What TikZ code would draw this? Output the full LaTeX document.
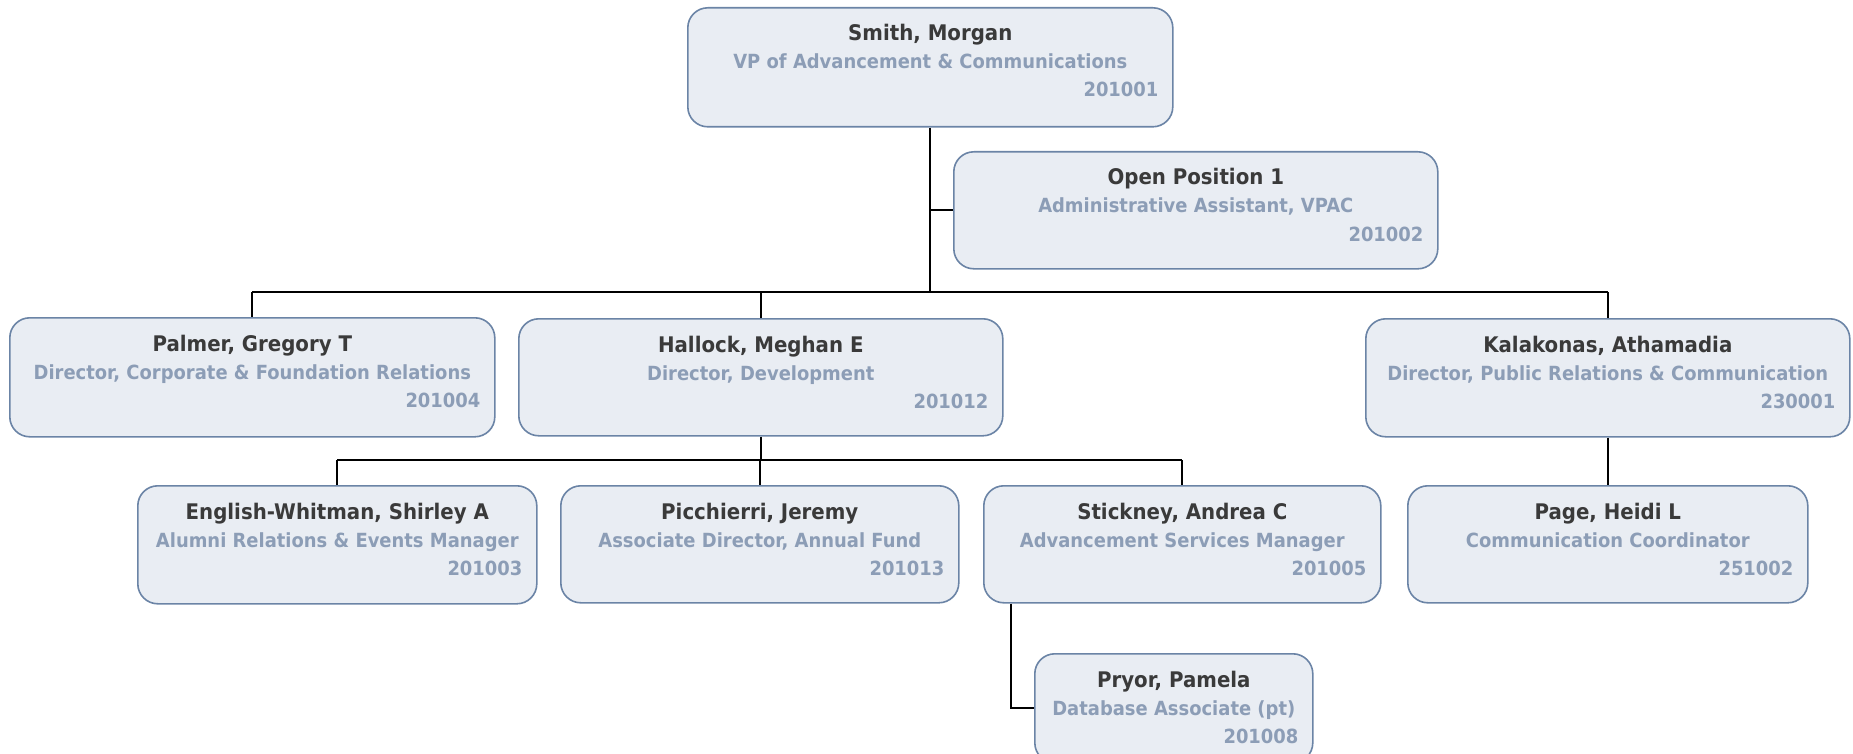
\documentclass[tikz,border=0pt]{standalone}
\usepackage{fontspec}
\newfontfamily\chartfont{DejaVu Sans}[FakeStretch=0.92]
\definecolor{boxfill}{HTML}{E9EDF3}
\definecolor{boxline}{HTML}{6B84A6}
\definecolor{nameink}{HTML}{3A3A3A}
\definecolor{titleink}{HTML}{8C9DB6}
\tikzset{
  orgbox/.style={draw=boxline, fill=boxfill, line width=1.6pt, rounded corners=20pt,
    inner sep=0pt, anchor=north west},
  nametext/.style={font=\chartfont\bfseries\fontsize{21.5}{21.5}\selectfont, text=nameink, inner sep=0pt, anchor=base},
  titletext/.style={font=\chartfont\bfseries\fontsize{19.5}{19.5}\selectfont, text=titleink, inner sep=0pt, anchor=base},
  numtext/.style={font=\chartfont\bfseries\fontsize{19.5}{19.5}\selectfont, text=titleink, inner sep=0pt, anchor=base east},
  link/.style={draw=black, line width=2pt},
}
% \orgperson{node}{left}{top}{width}{height}{name}{title}{number}
\newcommand{\orgperson}[8]{%
  \node[orgbox, minimum width=#4pt, minimum height=#5pt] (#1) at (#2,#3) {};
  \node[nametext] (#1-name) at ([yshift=-34pt]#1.north) {#6};
  \node[titletext] (#1-title) at ([yshift=-62pt]#1.north) {#7};
  \node[numtext] (#1-num) at ([xshift=-15pt,yshift=-90pt]#1.north east) {#8};
}
\begin{document}
\begin{tikzpicture}[x=1pt, y=-1pt]
\useasboundingbox (0,0) rectangle (1853,754);

\orgperson{smith}{687}{7}{485}{119}{Smith, Morgan}{VP of Advancement \& Communications}{201001}
\orgperson{open}{953}{151}{484}{117}{Open Position 1}{Administrative Assistant, VPAC}{201002}
\orgperson{palmer}{9}{317}{485}{119}{Palmer, Gregory T}{Director, Corporate \& Foundation Relations}{201004}
\orgperson{hallock}{518}{318}{484}{117}{Hallock, Meghan E}{Director, Development}{201012}
\orgperson{kalak}{1365}{318}{484}{118}{Kalakonas, Athamadia}{Director, Public Relations \& Communication}{230001}
\orgperson{english}{137}{485}{399}{118}{English-Whitman, Shirley A}{Alumni Relations \& Events Manager}{201003}
\orgperson{picch}{560}{485}{398}{117}{Picchierri, Jeremy}{Associate Director, Annual Fund}{201013}
\orgperson{stick}{983}{485}{397}{117}{Stickney, Andrea C}{Advancement Services Manager}{201005}
\orgperson{page}{1407}{485}{400}{117}{Page, Heidi L}{Communication Coordinator}{251002}
\orgperson{pryor}{1034}{653}{278}{109}{Pryor, Pamela}{Database Associate (pt)}{201008}

% bus coordinates
\coordinate (topbus) at (smith.south |- 0,292);
\coordinate (devbus) at (hallock.south |- 0,460);
\coordinate (stickdrop) at (1011,0);

% assistant
\draw[link] (smith.south) -- (topbus);
\draw[link] (smith.south |- open.west) -- (open.west);
% directors
\draw[link] (palmer.north |- topbus) -- (kalak.north |- topbus);
\draw[link] (palmer.north |- topbus) -- (palmer.north);
\draw[link] (hallock.north |- topbus) -- (hallock.north);
\draw[link] (kalak.north |- topbus) -- (kalak.north);
% development staff
\draw[link] (hallock.south) -- (devbus);
\draw[link] (english.north |- devbus) -- (stick.north |- devbus);
\draw[link] (english.north |- devbus) -- (english.north);
\draw[link] (picch.north |- devbus) -- (picch.north);
\draw[link] (stick.north |- devbus) -- (stick.north);
% advancement services
\draw[link] (stickdrop |- stick.south) -- (stickdrop |- pryor.west) -- (pryor.west);
% public relations
\draw[link] (kalak.south) -- (page.north);
\end{tikzpicture}
\end{document}
